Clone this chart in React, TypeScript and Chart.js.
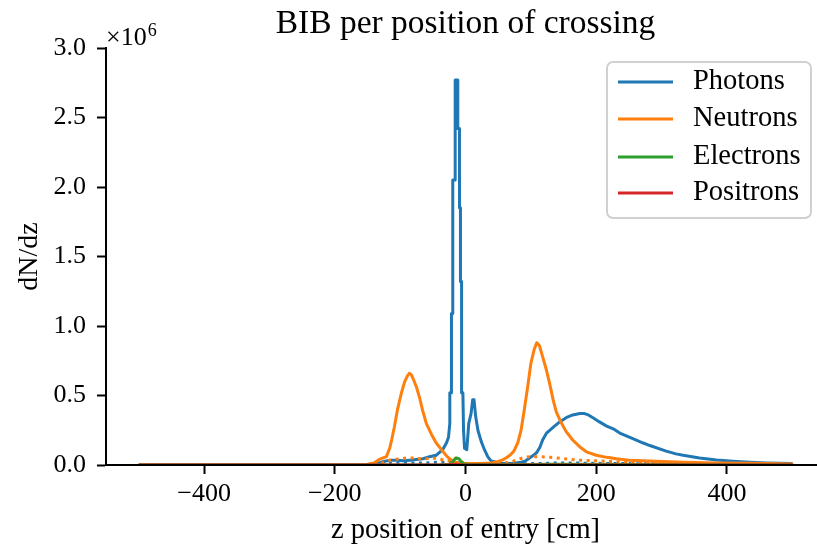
import React, { useEffect, useRef } from "react";
import { Chart, registerables } from "chart.js";

Chart.register(...registerables);

const FONT = '"Liberation Serif", "Times New Roman", serif';

// z position of entry [cm] and dN/dz in units of 10^6
const photonsZ = [-500, -150, -135, -125, -115, -105, -95, -85, -75, -65, -55, -45, -35, -29, -26, -24, -24, -21.5, -21.5, -19.5, -19.5, -15.8, -15.8, -11.8, -11.8, -9.2, -9.2, -7.7, -7.7, -6, -6, -4, -3, -1.5, 2, 5, 8.5, 11, 13, 15.5, 19, 24, 29, 34, 39, 47, 55, 65, 75, 85, 92, 98, 104, 109, 114, 118, 124, 134, 144, 154, 164, 175, 182, 188, 195, 205, 216, 226, 236, 256, 271, 282, 307, 322, 333, 358, 384, 409, 435, 460, 480, 499, 500];
const photonsN = [0, 0, 0.01, 0.025, 0.035, 0.035, 0.03, 0.035, 0.04, 0.045, 0.06, 0.07, 0.11, 0.16, 0.2, 0.3, 0.52, 0.52, 1.09, 1.09, 2.05, 2.05, 2.77, 2.77, 2.42, 2.42, 1.85, 1.85, 1.32, 1.32, 0.52, 0.52, 0.25, 0.12, 0.11, 0.30, 0.37, 0.47, 0.47, 0.35, 0.25, 0.17, 0.11, 0.06, 0.03, 0.02, 0.012, 0.01, 0.012, 0.02, 0.03, 0.05, 0.07, 0.09, 0.13, 0.18, 0.23, 0.27, 0.31, 0.34, 0.36, 0.37, 0.37, 0.36, 0.34, 0.31, 0.28, 0.26, 0.23, 0.19, 0.16, 0.14, 0.10, 0.08, 0.07, 0.05, 0.036, 0.027, 0.02, 0.015, 0.012, 0.01, 0];

const neutronsZ = [-500, -160, -150, -140, -132, -121, -116, -113, -109, -104, -98, -93, -89, -86, -83, -80, -75, -70, -66, -60, -52, -45, -35, -28, -20, -12, 0, 20, 40, 50, 56, 62, 68, 74, 80, 85, 90, 95, 100, 105, 109, 113, 118, 124, 129, 134, 139, 147, 154, 164, 175, 185, 200, 216, 231, 250, 282, 333, 384, 435, 499, 500];
const neutronsN = [0, 0, 0.005, 0.015, 0.04, 0.06, 0.12, 0.18, 0.27, 0.40, 0.52, 0.60, 0.64, 0.66, 0.65, 0.62, 0.56, 0.48, 0.40, 0.30, 0.22, 0.16, 0.10, 0.06, 0.03, 0.015, 0.01, 0.01, 0.015, 0.025, 0.035, 0.05, 0.07, 0.10, 0.16, 0.25, 0.40, 0.56, 0.73, 0.83, 0.88, 0.86, 0.78, 0.68, 0.58, 0.47, 0.38, 0.30, 0.24, 0.18, 0.13, 0.095, 0.07, 0.055, 0.045, 0.035, 0.028, 0.02, 0.015, 0.012, 0.008, 0];

const electronsZ = [-500, -40, -25, -20, -17, -14, -10, -6, -2, 5, 100, 130, 500];
const electronsN = [0, 0, 0.005, 0.02, 0.04, 0.05, 0.045, 0.02, 0.008, 0.003, 0.003, 0.005, 0];

const positronsZ = [-500, -30, -15, -5, 500];
const positronsN = [0, 0, 0.005, 0, 0];

const photonsDottedZ = [-140, -120, -100, -80, -60, -40, -25, -15, -5, 10, 40, 70, 100, 150, 200, 300, 400, 500];
const photonsDottedN = [0, 0.01, 0.015, 0.015, 0.015, 0.02, 0.02, 0.02, 0.01, 0.005, 0.003, 0.005, 0.01, 0.015, 0.012, 0.008, 0.005, 0.003];

const neutronsDottedZ = [-140, -130, -120, -110, -100, -90, -80, -70, -60, -50, -40, -30, -22, -15, -10, -5, 0, 20, 40, 60, 70, 80, 90, 100, 115, 130, 150, 175, 200, 250, 300, 400, 500];
const neutronsDottedN = [0, 0.01, 0.03, 0.04, 0.045, 0.05, 0.05, 0.045, 0.045, 0.05, 0.045, 0.03, 0.03, 0.05, 0.04, 0.02, 0.01, 0.008, 0.01, 0.015, 0.02, 0.04, 0.055, 0.06, 0.06, 0.055, 0.045, 0.035, 0.03, 0.02, 0.015, 0.01, 0.005];

const xTicks = [-400, -200, 0, 200, 400];
const yTicks = [0, 0.5, 1.0, 1.5, 2.0, 2.5, 3.0];

const legendLabels = ["Photons", "Neutrons", "Electrons", "Positrons"];
const legendColors = ["#1f77b4", "#ff7f0e", "#2ca02c", "#d62728"];

const titleText = "BIB per position of crossing";
const xTitle = "z position of entry [cm]";
const yTitle = "dN/dz";

const pts = (zs: number[], ns: number[]) => zs.map((z, i) => ({ x: z, y: ns[i] }));

const LW = 3;

function makeDataset(label: string, zs: number[], ns: number[], color: string, order: number, dotted = false) {
  return {
    label,
    data: pts(zs, ns),
    borderColor: color,
    backgroundColor: color,
    borderWidth: LW,
    borderDash: dotted ? [3, 4.5] : [],
    borderCapStyle: "butt" as const,
    borderJoinStyle: "round" as const,
    pointRadius: 0,
    pointHoverRadius: 0,
    fill: false,
    tension: 0,
    order,
  };
}

const decorPlugin = {
  id: "decor",
  afterDraw(chart: any) {
    const ctx = chart.ctx as CanvasRenderingContext2D;
    const a = chart.chartArea;
    const cx = (a.left + a.right) / 2;
    ctx.save();
    ctx.fillStyle = "#000";
    // Title
    ctx.font = `33.5px ${FONT}`;
    ctx.textAlign = "center";
    ctx.textBaseline = "alphabetic";
    ctx.fillText(titleText, cx, 33);
    // X title
    ctx.font = `28.5px ${FONT}`;
    ctx.fillText(xTitle, cx, 538);
    // Y title
    ctx.font = `28px ${FONT}`;
    ctx.save();
    ctx.translate(37, (a.top + a.bottom) / 2);
    ctx.rotate(-Math.PI / 2);
    ctx.fillText(yTitle, 0, 0);
    ctx.restore();
    // Offset text x10^6
    ctx.textAlign = "left";
    ctx.font = `26px ${FONT}`;
    const base = "\u00d710";
    ctx.fillText(base, a.left, 45);
    const w = ctx.measureText(base).width;
    ctx.font = `18px ${FONT}`;
    ctx.fillText("6", a.left + w + 1, 36);

    // Legend
    const lx = 607, ly = 62, lw = 204, lh = 156, r = 6;
    ctx.beginPath();
    ctx.moveTo(lx + r, ly);
    ctx.lineTo(lx + lw - r, ly);
    ctx.arcTo(lx + lw, ly, lx + lw, ly + r, r);
    ctx.lineTo(lx + lw, ly + lh - r);
    ctx.arcTo(lx + lw, ly + lh, lx + lw - r, ly + lh, r);
    ctx.lineTo(lx + r, ly + lh);
    ctx.arcTo(lx, ly + lh, lx, ly + lh - r, r);
    ctx.lineTo(lx, ly + r);
    ctx.arcTo(lx, ly, lx + r, ly, r);
    ctx.closePath();
    ctx.fillStyle = "rgba(255,255,255,0.8)";
    ctx.fill();
    ctx.strokeStyle = "#d0d0d0";
    ctx.lineWidth = 2;
    ctx.stroke();
    const rows = [82, 119, 157, 193];
    ctx.font = `28.5px ${FONT}`;
    ctx.textBaseline = "middle";
    legendLabels.forEach((lab, i) => {
      ctx.beginPath();
      ctx.strokeStyle = legendColors[i];
      ctx.lineWidth = LW;
      ctx.moveTo(618, rows[i]);
      ctx.lineTo(673, rows[i]);
      ctx.stroke();
      ctx.fillStyle = "#000";
      ctx.fillText(lab, 693, rows[i]);
    });
    ctx.restore();
  },
};

const fmtX = (v: number) => (v < 0 ? "\u2212" + Math.abs(v) : String(v));

export default function App() {
  const ref = useRef<HTMLCanvasElement>(null);
  useEffect(() => {
    let chart: Chart | null = null;
    let cancelled = false;
    const build = () => {
      if (cancelled || !ref.current) return;
      chart = new Chart(ref.current, {
        type: "line",
        data: {
          datasets: [
            makeDataset(legendLabels[0], photonsZ, photonsN, legendColors[0], 6),
            makeDataset("Photons (dotted)", photonsDottedZ, photonsDottedN, legendColors[0], 5, true),
            makeDataset(legendLabels[1], neutronsZ, neutronsN, legendColors[1], 4),
            makeDataset("Neutrons (dotted)", neutronsDottedZ, neutronsDottedN, legendColors[1], 3, true),
            makeDataset(legendLabels[2], electronsZ, electronsN, legendColors[2], 2),
            makeDataset(legendLabels[3], positronsZ, positronsN, legendColors[3], 1),
          ] as any,
        },
        options: {
          animation: false,
          responsive: false,
          devicePixelRatio: 1,
          layout: { padding: { left: 0, top: 48, right: 15, bottom: 0 } },
          plugins: { legend: { display: false }, tooltip: { enabled: false }, title: { display: false } },
          scales: {
            x: {
              type: "linear",
              min: -550,
              max: 550,
              afterBuildTicks: (s: any) => {
                s.ticks = xTicks.map((v) => ({ value: v }));
              },
              afterFit: (s: any) => {
                s.height = 81;
              },
              ticks: {
                font: { size: 26, family: FONT },
                color: "#000",
                padding: 5,
                maxRotation: 0,
                autoSkip: false,
                callback: (v: any) => fmtX(Number(v)),
              },
              grid: { display: true, drawOnChartArea: false, drawTicks: true, tickLength: 9, tickWidth: 2, tickColor: "#000" },
              border: { display: true, color: "#000", width: 2, z: 1 },
            },
            y: {
              type: "linear",
              min: 0,
              max: 3,
              afterBuildTicks: (s: any) => {
                s.ticks = yTicks.map((v) => ({ value: v }));
              },
              afterFit: (s: any) => {
                s.width = 106;
              },
              ticks: {
                font: { size: 26, family: FONT },
                color: "#000",
                padding: 11,
                autoSkip: false,
                callback: (v: any) => Number(v).toFixed(1),
              },
              grid: { display: true, drawOnChartArea: false, drawTicks: true, tickLength: 9, tickWidth: 2, tickColor: "#000" },
              border: { display: true, color: "#000", width: 2, z: 1 },
            },
          },
        } as any,
        plugins: [decorPlugin],
      });
    };
    if ((document as any).fonts && (document as any).fonts.load) {
      (document as any).fonts.load(`26px "Liberation Serif"`).then(build, build);
    } else {
      build();
    }
    return () => {
      cancelled = true;
      if (chart) chart.destroy();
    };
  }, []);
  return (
    <div style={{ position: "absolute", left: 0, top: 0, width: 817, height: 546, overflow: "hidden", background: "#fff" }}>
      <canvas ref={ref} width={840} height={546} style={{ display: "block", width: 840, height: 546 }} />
    </div>
  );
}
